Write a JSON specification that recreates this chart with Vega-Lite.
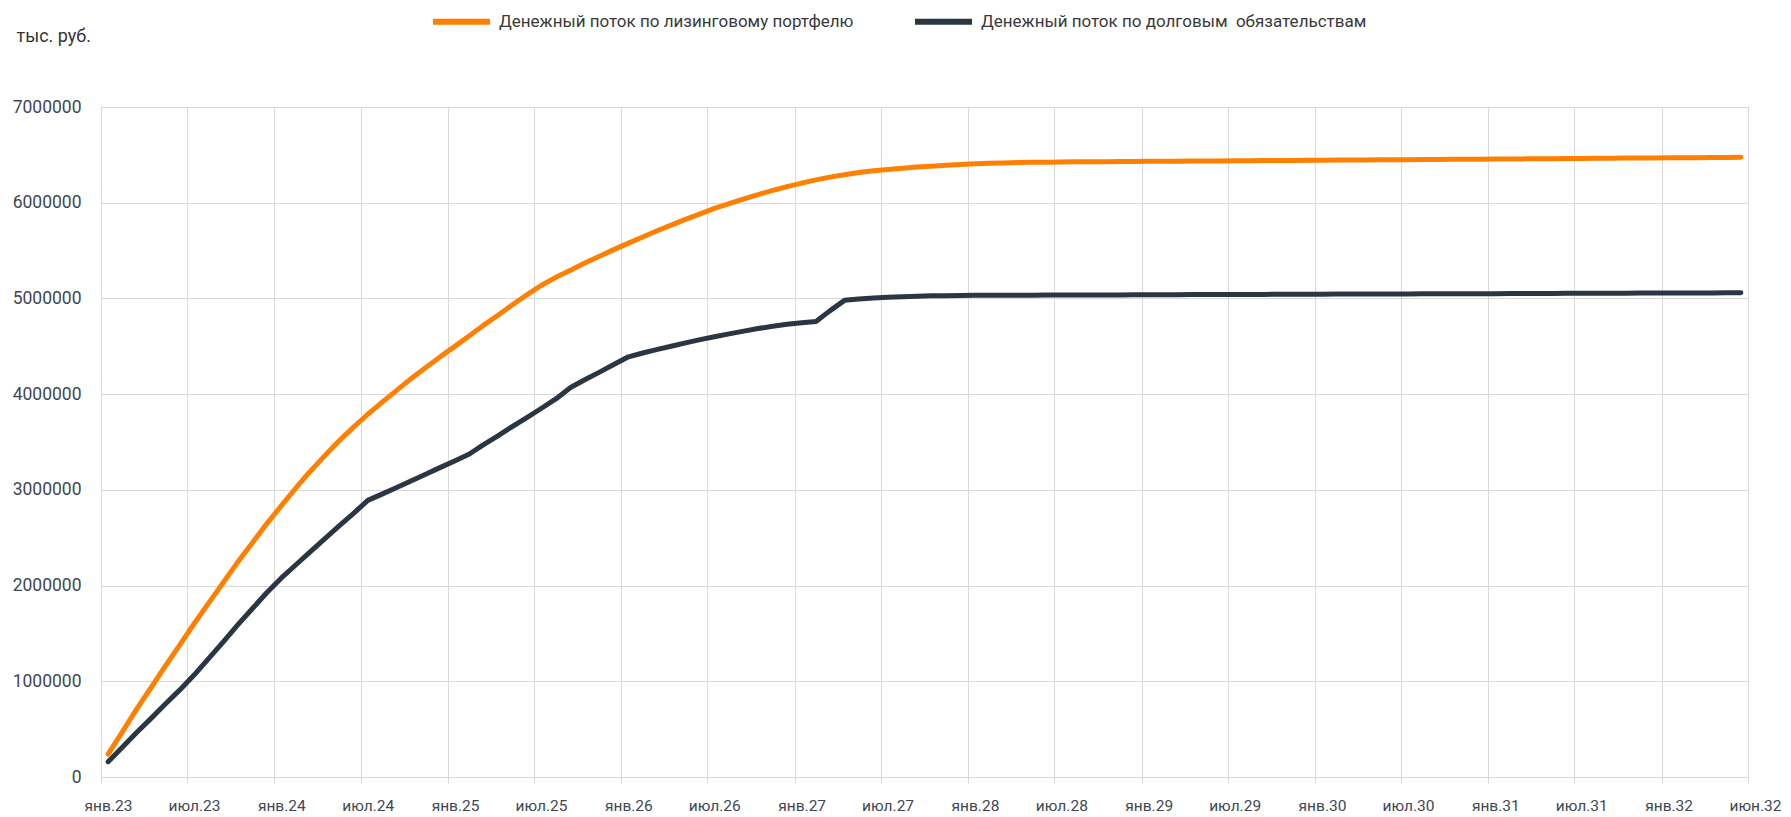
{
  "$schema": "https://vega.github.io/schema/vega-lite/v6.json",
  "width": 1647,
  "height": 670,
  "autosize": "none",
  "padding": {"left": 101, "top": 107, "right": 43, "bottom": 40},
  "background": "white",
  "config": {"font": "Roboto", "view": {"stroke": null}},
  "data": {"values": [
    {"date": "2023-01-16", "lease": 240000, "debt": 160000},
    {"date": "2023-02-15", "lease": 472000, "debt": 310000},
    {"date": "2023-03-16", "lease": 702000, "debt": 460000},
    {"date": "2023-04-16", "lease": 930000, "debt": 610000},
    {"date": "2023-05-16", "lease": 1156000, "debt": 760000},
    {"date": "2023-06-16", "lease": 1380000, "debt": 910000},
    {"date": "2023-07-16", "lease": 1601000, "debt": 1065000},
    {"date": "2023-08-16", "lease": 1819000, "debt": 1240000},
    {"date": "2023-09-16", "lease": 2034000, "debt": 1415000},
    {"date": "2023-10-16", "lease": 2245000, "debt": 1590000},
    {"date": "2023-11-16", "lease": 2448000, "debt": 1760000},
    {"date": "2023-12-16", "lease": 2645000, "debt": 1925000},
    {"date": "2024-01-16", "lease": 2835000, "debt": 2080000},
    {"date": "2024-02-15", "lease": 3017000, "debt": 2215000},
    {"date": "2024-03-16", "lease": 3190000, "debt": 2350000},
    {"date": "2024-04-16", "lease": 3355000, "debt": 2488000},
    {"date": "2024-05-16", "lease": 3510000, "debt": 2620000},
    {"date": "2024-06-16", "lease": 3655000, "debt": 2755000},
    {"date": "2024-07-16", "lease": 3790000, "debt": 2890000},
    {"date": "2024-08-16", "lease": 3920000, "debt": 2958000},
    {"date": "2024-09-16", "lease": 4045000, "debt": 3027000},
    {"date": "2024-10-16", "lease": 4165000, "debt": 3096000},
    {"date": "2024-11-16", "lease": 4280000, "debt": 3165000},
    {"date": "2024-12-16", "lease": 4392000, "debt": 3235000},
    {"date": "2025-01-16", "lease": 4502000, "debt": 3305000},
    {"date": "2025-02-15", "lease": 4610000, "debt": 3375000},
    {"date": "2025-03-16", "lease": 4718000, "debt": 3470000},
    {"date": "2025-04-16", "lease": 4825000, "debt": 3565000},
    {"date": "2025-05-16", "lease": 4932000, "debt": 3660000},
    {"date": "2025-06-16", "lease": 5038000, "debt": 3755000},
    {"date": "2025-07-16", "lease": 5135000, "debt": 3850000},
    {"date": "2025-08-16", "lease": 5220000, "debt": 3950000},
    {"date": "2025-09-16", "lease": 5295000, "debt": 4070000},
    {"date": "2025-10-16", "lease": 5370000, "debt": 4150000},
    {"date": "2025-11-16", "lease": 5440000, "debt": 4230000},
    {"date": "2025-12-16", "lease": 5510000, "debt": 4310000},
    {"date": "2026-01-16", "lease": 5578000, "debt": 4390000},
    {"date": "2026-02-15", "lease": 5642000, "debt": 4430000},
    {"date": "2026-03-16", "lease": 5705000, "debt": 4465000},
    {"date": "2026-04-16", "lease": 5766000, "debt": 4500000},
    {"date": "2026-05-16", "lease": 5826000, "debt": 4535000},
    {"date": "2026-06-16", "lease": 5884000, "debt": 4570000},
    {"date": "2026-07-16", "lease": 5940000, "debt": 4600000},
    {"date": "2026-08-16", "lease": 5990000, "debt": 4630000},
    {"date": "2026-09-16", "lease": 6040000, "debt": 4658000},
    {"date": "2026-10-16", "lease": 6085000, "debt": 4685000},
    {"date": "2026-11-16", "lease": 6128000, "debt": 4710000},
    {"date": "2026-12-16", "lease": 6168000, "debt": 4730000},
    {"date": "2027-01-16", "lease": 6205000, "debt": 4745000},
    {"date": "2027-02-15", "lease": 6238000, "debt": 4760000},
    {"date": "2027-03-16", "lease": 6267000, "debt": 4870000},
    {"date": "2027-04-16", "lease": 6293000, "debt": 4980000},
    {"date": "2027-05-16", "lease": 6315000, "debt": 4995000},
    {"date": "2027-06-16", "lease": 6333000, "debt": 5005000},
    {"date": "2027-07-16", "lease": 6348000, "debt": 5012000},
    {"date": "2027-08-16", "lease": 6361000, "debt": 5018000},
    {"date": "2027-09-16", "lease": 6372000, "debt": 5023000},
    {"date": "2027-10-16", "lease": 6382000, "debt": 5027000},
    {"date": "2027-11-16", "lease": 6392000, "debt": 5029000},
    {"date": "2027-12-16", "lease": 6400000, "debt": 5031000},
    {"date": "2028-01-16", "lease": 6407000, "debt": 5032000},
    {"date": "2028-02-15", "lease": 6412000, "debt": 5033000},
    {"date": "2028-03-16", "lease": 6416000, "debt": 5033000},
    {"date": "2028-04-16", "lease": 6419000, "debt": 5034000},
    {"date": "2028-05-16", "lease": 6422000, "debt": 5034000},
    {"date": "2028-06-16", "lease": 6424000, "debt": 5035000},
    {"date": "2028-07-16", "lease": 6426000, "debt": 5035000},
    {"date": "2028-08-16", "lease": 6427000, "debt": 5036000},
    {"date": "2028-09-16", "lease": 6428000, "debt": 5036000},
    {"date": "2028-10-16", "lease": 6429000, "debt": 5037000},
    {"date": "2028-11-16", "lease": 6430000, "debt": 5037000},
    {"date": "2028-12-16", "lease": 6431000, "debt": 5038000},
    {"date": "2029-01-16", "lease": 6432000, "debt": 5038000},
    {"date": "2029-02-15", "lease": 6433000, "debt": 5039000},
    {"date": "2029-03-16", "lease": 6434000, "debt": 5039000},
    {"date": "2029-04-16", "lease": 6435000, "debt": 5040000},
    {"date": "2029-05-16", "lease": 6436000, "debt": 5040000},
    {"date": "2029-06-16", "lease": 6437000, "debt": 5041000},
    {"date": "2029-07-16", "lease": 6438000, "debt": 5041000},
    {"date": "2029-08-16", "lease": 6439000, "debt": 5042000},
    {"date": "2029-09-16", "lease": 6440000, "debt": 5042000},
    {"date": "2029-10-16", "lease": 6441000, "debt": 5043000},
    {"date": "2029-11-16", "lease": 6442000, "debt": 5043000},
    {"date": "2029-12-16", "lease": 6443000, "debt": 5044000},
    {"date": "2030-01-16", "lease": 6444000, "debt": 5044000},
    {"date": "2030-02-15", "lease": 6445000, "debt": 5045000},
    {"date": "2030-03-16", "lease": 6446000, "debt": 5045000},
    {"date": "2030-04-16", "lease": 6447000, "debt": 5046000},
    {"date": "2030-05-16", "lease": 6448000, "debt": 5046000},
    {"date": "2030-06-16", "lease": 6449000, "debt": 5047000},
    {"date": "2030-07-16", "lease": 6450000, "debt": 5047000},
    {"date": "2030-08-16", "lease": 6451000, "debt": 5048000},
    {"date": "2030-09-16", "lease": 6452000, "debt": 5048000},
    {"date": "2030-10-16", "lease": 6453000, "debt": 5049000},
    {"date": "2030-11-16", "lease": 6454000, "debt": 5049000},
    {"date": "2030-12-16", "lease": 6455000, "debt": 5050000},
    {"date": "2031-01-16", "lease": 6456000, "debt": 5050000},
    {"date": "2031-02-15", "lease": 6457000, "debt": 5051000},
    {"date": "2031-03-16", "lease": 6458000, "debt": 5051000},
    {"date": "2031-04-16", "lease": 6459000, "debt": 5052000},
    {"date": "2031-05-16", "lease": 6460000, "debt": 5052000},
    {"date": "2031-06-16", "lease": 6461000, "debt": 5053000},
    {"date": "2031-07-16", "lease": 6462000, "debt": 5053000},
    {"date": "2031-08-16", "lease": 6464000, "debt": 5054000},
    {"date": "2031-09-16", "lease": 6465000, "debt": 5054000},
    {"date": "2031-10-16", "lease": 6466000, "debt": 5055000},
    {"date": "2031-11-16", "lease": 6467000, "debt": 5056000},
    {"date": "2031-12-16", "lease": 6468000, "debt": 5056000},
    {"date": "2032-01-16", "lease": 6469000, "debt": 5057000},
    {"date": "2032-02-15", "lease": 6470000, "debt": 5057000},
    {"date": "2032-03-16", "lease": 6471000, "debt": 5058000},
    {"date": "2032-04-16", "lease": 6472000, "debt": 5058000},
    {"date": "2032-05-16", "lease": 6473000, "debt": 5059000},
    {"date": "2032-06-16", "lease": 6475000, "debt": 5060000}
  ]},
  "transform": [{"fold": ["lease", "debt"], "as": ["series", "value"]}],
  "mark": {"type": "line", "strokeWidth": 5, "strokeCap": "round", "strokeJoin": "round", "interpolate": "linear"},
  "encoding": {
    "x": {
      "field": "date",
      "type": "temporal",
      "scale": {
        "type": "utc",
        "domain": [
          {"year": 2023, "month": 1, "date": 1, "utc": true},
          {"year": 2032, "month": 7, "date": 1, "utc": true}
        ]
      },
      "axis": {
        "title": null,
        "values": [
          {"year": 2023, "month": 1, "date": 1, "utc": true},
          {"year": 2023, "month": 7, "date": 1, "utc": true},
          {"year": 2024, "month": 1, "date": 1, "utc": true},
          {"year": 2024, "month": 7, "date": 1, "utc": true},
          {"year": 2025, "month": 1, "date": 1, "utc": true},
          {"year": 2025, "month": 7, "date": 1, "utc": true},
          {"year": 2026, "month": 1, "date": 1, "utc": true},
          {"year": 2026, "month": 7, "date": 1, "utc": true},
          {"year": 2027, "month": 1, "date": 1, "utc": true},
          {"year": 2027, "month": 7, "date": 1, "utc": true},
          {"year": 2028, "month": 1, "date": 1, "utc": true},
          {"year": 2028, "month": 7, "date": 1, "utc": true},
          {"year": 2029, "month": 1, "date": 1, "utc": true},
          {"year": 2029, "month": 7, "date": 1, "utc": true},
          {"year": 2030, "month": 1, "date": 1, "utc": true},
          {"year": 2030, "month": 7, "date": 1, "utc": true},
          {"year": 2031, "month": 1, "date": 1, "utc": true},
          {"year": 2031, "month": 7, "date": 1, "utc": true},
          {"year": 2032, "month": 1, "date": 1, "utc": true},
          {"year": 2032, "month": 7, "date": 1, "utc": true}
        ],
        "labelExpr": "(utcyear(datum.value) == 2032 && utcmonth(datum.value) == 6) ? 'июн.32' : ((utcmonth(datum.value) == 0 ? 'янв.' : 'июл.') + utcFormat(datum.value, '%y'))",
        "labelFontSize": 15.5,
        "labelColor": "#404854",
        "labelOffset": 7,
        "labelPadding": 15,
        "labelOverlap": false,
        "labelBound": false,
        "labelFlush": false,
        "ticks": true,
        "tickSize": 6,
        "tickColor": "#D9D9D9",
        "tickWidth": 1,
        "domain": false,
        "grid": true,
        "gridColor": "#D9D9D9",
        "gridWidth": 1
      }
    },
    "y": {
      "field": "value",
      "type": "quantitative",
      "scale": {"domain": [0, 7000000], "nice": false},
      "axis": {
        "values": [0, 1000000, 2000000, 3000000, 4000000, 5000000, 6000000, 7000000],
        "format": "d",
        "title": "тыс. руб.",
        "titleAngle": 0,
        "titleAlign": "left",
        "titleBaseline": "middle",
        "titleX": -85,
        "titleY": -71,
        "titleFontSize": 18,
        "titleFontWeight": "normal",
        "titleColor": "#333333",
        "labelFontSize": 17.5,
        "labelColor": "#404854",
        "labelPadding": 20,
        "ticks": false,
        "domain": false,
        "grid": true,
        "gridColor": "#D9D9D9",
        "gridWidth": 1
      }
    },
    "color": {
      "field": "series",
      "type": "nominal",
      "scale": {"domain": ["lease", "debt"], "range": ["#FF8000", "#2A3642"]},
      "legend": {
        "orient": "none",
        "direction": "horizontal",
        "legendX": 329,
        "legendY": -117,
        "title": null,
        "padding": 0,
        "symbolType": "stroke",
        "symbolSize": 3249,
        "symbolStrokeWidth": 6,
        "labelOffset": 6,
        "columnPadding": 49,
        "labelFontSize": 17,
        "labelColor": "#3A3A3A",
        "labelLimit": 0,
        "labelExpr": "datum.label == 'lease' ? 'Денежный поток по лизинговому портфелю' : 'Денежный поток по долговым \u00a0обязательствам'"
      }
    }
  }
}
